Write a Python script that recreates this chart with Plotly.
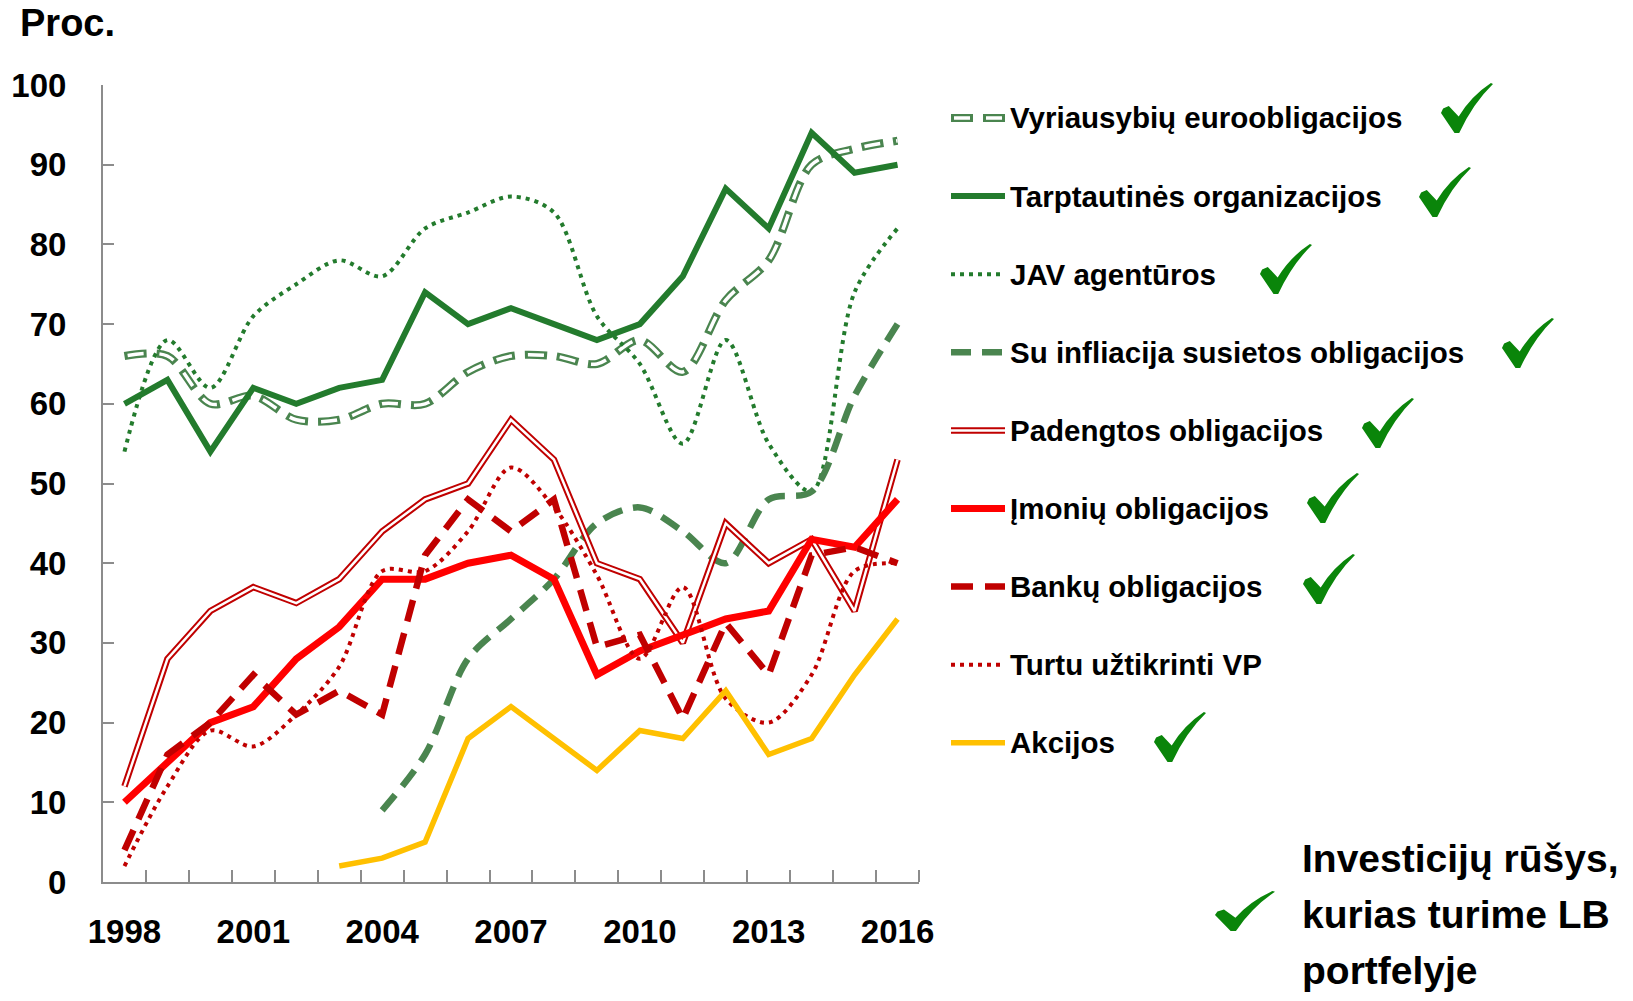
import plotly.graph_objects as go

# ---------------- data ----------------
years = list(range(1998, 2017))
x_tick_years = [1998, 2001, 2004, 2007, 2010, 2013, 2016]
y_ticks = list(range(0, 101, 10))

names = [
    "Vyriausybių euroobligacijos",
    "Tarptautinės organizacijos",
    "JAV agentūros",
    "Su infliacija susietos obligacijos",
    "Padengtos obligacijos",
    "Įmonių obligacijos",
    "Bankų obligacijos",
    "Turtu užtikrinti VP",
    "Akcijos",
]
held = [True, True, True, True, True, True, True, False, True]

vyriausybiu = [66, 66, 60, 61, 58, 58, 60, 60, 64, 66, 66, 65, 68, 64, 73, 78, 90, 92, 93]
tarptautines = [60, 63, 54, 62, 60, 62, 63, 74, 70, 72, 70, 68, 70, 76, 87, 82, 94, 89, 90]
jav = [54, 68, 62, 71, 75, 78, 76, 82, 84, 86, 84, 71, 65, 55, 68, 55, 49, 74, 82]
infliacija = [None] * 6 + [9, 16, 28, 33, 38, 45, 47, 44, 40, 48, 49, 61, 70]
padengtos = [12, 28, 34, 37, 35, 38, 44, 48, 50, 58, 53, 40, 38, 30, 45, 40, 43, 34, 53]
imoniu = [10, 15, 20, 22, 28, 32, 38, 38, 40, 41, 38, 26, 29, 31, 33, 34, 43, 42, 48]
banku = [4, 16, 20, 26, 21, 24, 21, 41, 48, 44, 48, 29.5, 31, 20.5, 32.5, 26, 41, 42, 40]
turtu = [2, 12, 19, 17, 21, 27, 39, 39, 44, 52, 47, 38.5, 28, 37, 23, 20, 26, 39, 40]
akcijos = [None] * 5 + [2, 3, 5, 18, 22, 18, 14, 19, 18, 24, 16, 18, 26, 33]

values = [vyriausybiu, tarptautines, jav, infliacija, padengtos, imoniu, banku, turtu, akcijos]

y_title = "Proc."
note_lines = ["Investicijų rūšys,", "kurias turime LB", "portfelyje"]

# ---------------- styles / layout ----------------
W, H = 1633, 1001
PL, PR, PT, PB = 103, 919, 85, 882


def fx(x):
    return (x - PL) / (PR - PL)


def fy(y):
    return (PB - y) / (PB - PT)


FONT = "Liberation Sans, Arial, sans-serif"
GREEN_D = "#237b2d"
GREEN_M = "#4a854f"
RED_D = "#c00000"
RED = "#ff0000"
YEL = "#ffc000"
CHECK = "#0a850a"
AXIS = "#8c8c8c"

# each series: list of stroke layers (color, width, dash, shape)
layers = [
    [(GREEN_M, 8, "22px,10px", "spline"), ("white", 3.5, "0px,3px,16px,13px", "spline")],
    [(GREEN_D, 6, "solid", "linear")],
    [(GREEN_D, 4, "4px,5px", "spline")],
    [(GREEN_M, 6.5, "20px,11px", "spline")],
    [(RED_D, 6.5, "solid", "linear"), ("white", 2.5, "solid", "linear")],
    [(RED, 7, "solid", "linear")],
    [(RED_D, 6.5, "22px,12px", "linear")],
    [(RED_D, 4, "4px,5px", "spline")],
    [(YEL, 5.5, "solid", "linear")],
]

fig = go.Figure()
for vals, lyr in zip(values, layers):
    for color, width, dash, shape in lyr:
        fig.add_trace(go.Scatter(
            x=years, y=vals, mode="lines",
            line=dict(color=color, width=width, dash=dash, shape=shape,
                      smoothing=0.9 if shape == "spline" else None),
            connectgaps=False, hoverinfo="skip", showlegend=False,
        ))

# ---------------- manual legend ----------------
LEG_X0, LEG_X1, LEG_TX = 951, 1005, 1008
LEG_Y0, LEG_DY = 118, 78.1
shapes = []
annotations = []
for i, (name, lyr) in enumerate(zip(names, layers)):
    ry = LEG_Y0 + i * LEG_DY
    for color, width, dash, shape in lyr:
        shapes.append(dict(type="line", xref="paper", yref="paper",
                           x0=fx(LEG_X0), x1=fx(LEG_X1), y0=fy(ry), y1=fy(ry),
                           line=dict(color=color, width=width, dash=dash)))
    annotations.append(dict(text=name, xref="paper", yref="paper",
                            x=fx(LEG_TX), y=fy(ry), xanchor="left", yanchor="middle",
                            showarrow=False,
                            font=dict(family=FONT, size=29.5, color="black", weight="bold")))


def check_path(x0, y0, w, h):
    def p(u, v):
        return f"{fx(x0 + u * w):.5f},{fy(y0 + v * h):.5f}"
    return ("M" + p(0.00, 0.60) + " L" + p(0.04, 0.51) + " L" + p(0.15, 0.46)
            + " L" + p(0.34, 0.67) + " Q" + p(0.58, 0.26) + " " + p(0.96, 0.00)
            + " L" + p(1.00, 0.02) + " Q" + p(0.62, 0.40) + " " + p(0.35, 1.00)
            + " L" + p(0.26, 1.00) + " Z")


check_boxes = {0: (1441, 83), 1: (1419, 167), 2: (1260, 244), 3: (1502, 318),
               4: (1362, 398), 5: (1307, 473), 6: (1303, 554), 8: (1154, 712)}
for i, h_ in enumerate(held):
    if h_ and i in check_boxes:
        x0, y0 = check_boxes[i]
        shapes.append(dict(type="path", xref="paper", yref="paper",
                           path=check_path(x0, y0, 52, 50),
                           fillcolor=CHECK, line=dict(width=0)))
shapes.append(dict(type="path", xref="paper", yref="paper",
                   path=check_path(1215, 891, 60, 40),
                   fillcolor=CHECK, line=dict(width=0)))

for k, line in enumerate(note_lines):
    annotations.append(dict(text=line, xref="paper", yref="paper",
                            x=fx(1300), y=fy(858 + 56 * k), xanchor="left", yanchor="middle",
                            showarrow=False,
                            font=dict(family=FONT, size=39, color="black", weight="bold")))

annotations.append(dict(text=y_title, xref="paper", yref="paper",
                        x=fx(18), y=fy(23), xanchor="left", yanchor="middle",
                        showarrow=False,
                        font=dict(family=FONT, size=38, color="black", weight="bold")))

fig.update_layout(
    width=W, height=H,
    margin=dict(l=PL, r=W - PR, t=PT, b=H - PB, pad=0, autoexpand=False),
    paper_bgcolor="white", plot_bgcolor="white",
    showlegend=False,
    shapes=shapes, annotations=annotations,
)
fig.update_xaxes(
    range=[1997.5, 2016.5], tickmode="array", tickvals=x_tick_years,
    ticktext=[str(v) for v in x_tick_years], ticks="", automargin=False,
    showline=True, linecolor=AXIS, linewidth=2, showgrid=False, zeroline=False,
    tickfont=dict(family=FONT, size=33, color="black", weight="bold"),
    ticklabelstandoff=19,
    minor=dict(tickmode="array", tickvals=[y + 0.5 for y in years], ticks="inside",
               ticklen=12, tickwidth=2, tickcolor=AXIS, showgrid=False),
)
fig.update_yaxes(
    range=[0, 100], tickmode="array", tickvals=y_ticks, ticks="inside", automargin=False,
    ticklen=11, tickwidth=2, tickcolor=AXIS,
    showline=True, linecolor=AXIS, linewidth=2, showgrid=False, zeroline=False,
    tickfont=dict(family=FONT, size=33, color="black", weight="bold"),
    ticklabelstandoff=28,
)

fig.write_html("out.html", config={"displayModeBar": False},
               post_script="document.body.style.margin='0';")
